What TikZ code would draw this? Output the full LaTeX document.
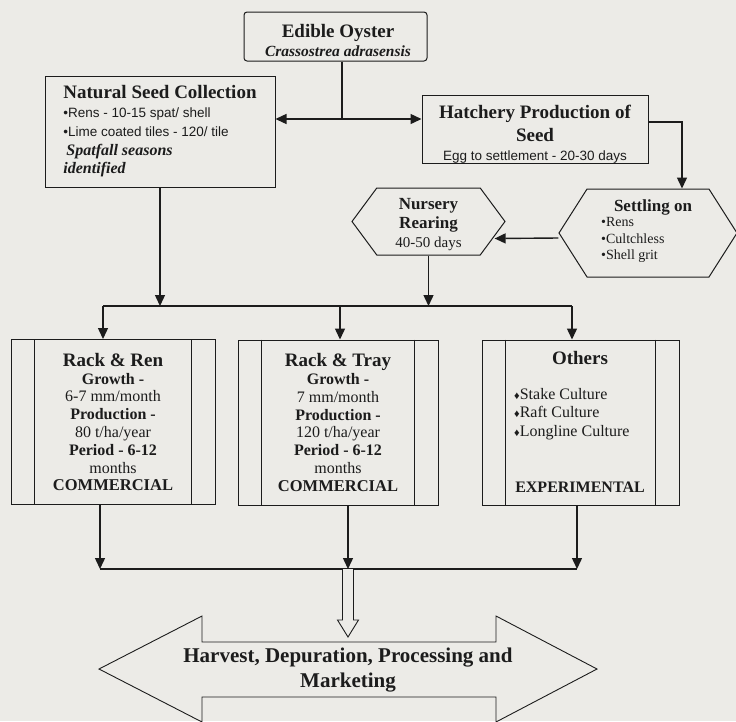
\documentclass[tikz,border=0pt]{standalone}
\usepackage{fontspec}
\setmainfont{Liberation Serif}
\newfontfamily\sansf{Liberation Sans}
\usetikzlibrary{shapes.symbols,arrows.meta,calc}
\definecolor{paper}{RGB}{236,235,231}
\definecolor{ink}{RGB}{28,28,28}

\begin{document}
\begin{tikzpicture}[x=1pt,y=-1pt,
  every node/.style={text=ink},
  box/.style={draw=ink,line width=1pt,fill=paper,inner sep=0pt},
  hexbox/.style={draw=ink,line width=1pt,fill=paper,signal,signal to=west and east,inner sep=0pt},
  link/.style={draw=ink,line width=1.4pt},
  arr/.style={link,-{Triangle[length=11pt,width=10pt]}},
  dblarr/.style={link,{Triangle[length=11pt,width=10pt]}-{Triangle[length=11pt,width=10pt]}},
  band/.style={draw=ink,line width=1pt},
  culture/.style={box,minimum height=165pt,align=center,font=\fontsize{16}{17.8}\selectfont},
  hollow/.style={draw=ink,line width=0.9pt,fill=paper},
]
% page
\fill[paper] (0,0) rectangle (736,721);
\useasboundingbox (0,0) rectangle (736,721);

% top: species box
\node[box,rounded corners=3pt,minimum width=183pt,minimum height=49pt] (oyster) at (335.5,36.5) {};
\node[align=center,font=\fontsize{19}{19}\selectfont\bfseries] (oystertext) at (338,40)
  {Edible Oyster\\ {\itshape\fontsize{15.5}{19}\selectfont Crassostrea adrasensis}};

% seed sources
\node[box,minimum width=230pt,minimum height=111pt,align=left,
      font=\fontsize{13.5}{18.7}\selectfont] (nat) at (160,131.5)
  {{\fontsize{19}{18}\selectfont\bfseries Natural Seed Collection}\\
   {\sansf •Rens - 10-15 spat/ shell}\\
   {\sansf •Lime coated tiles - 120/ tile}\\
   {\fontsize{16}{18}\selectfont\bfseries\itshape\hspace*{3pt}Spatfall seasons}\\
   {\fontsize{16}{18}\selectfont\bfseries\itshape identified}};

\node[box,minimum width=226pt,minimum height=68pt] (hatch) at (535,129) {};
\node[align=center,font=\fontsize{19}{23}\selectfont\bfseries] (hatchtext) at (535,134.5)
  {Hatchery Production of\\ Seed\\[-4pt]
   {\sansf\mdseries\fontsize{13.5}{14}\selectfont Egg to settlement - 20-30 days}};

% settling and nursery
\node[hexbox,signal pointer angle=115,minimum width=178pt,minimum height=88pt] (settle) at (648,233) {};
\node[font=\fontsize{17}{19}\selectfont\bfseries] (settlehead) at (653,207) {Settling on};
\node[anchor=west,align=left,inner sep=0pt,font=\fontsize{14}{16.5}\selectfont] (settlelist) at (601,240)
  {•Rens\\ •Cultchless\\ •Shell grit};

\node[hexbox,signal pointer angle=107,minimum width=153pt,minimum height=67pt] (nurs) at (428.5,221.5) {};
\node[align=center,font=\fontsize{17}{19}\selectfont\bfseries] (nurstext) at (428.5,225)
  {Nursery\\ Rearing\\ {\mdseries\fontsize{15}{19}\selectfont 40-50 days}};

% culture methods
\node[culture,minimum width=204pt] (rren) at (113,422)
  {{\fontsize{19}{17.8}\selectfont\bfseries Rack \& Ren}\\ \textbf{Growth -}\\ 6-7 mm/month\\
   \textbf{Production -}\\ 80 t/ha/year\\ \textbf{Period - 6-12}\\ months\\
   {\fontsize{16.5}{17.8}\selectfont\bfseries COMMERCIAL}};
\node[culture,minimum width=200pt] (tray) at (338,422.5)
  {{\fontsize{19}{17.8}\selectfont\bfseries Rack \& Tray}\\ \textbf{Growth -}\\ 7 mm/month\\
   \textbf{Production -}\\ 120 t/ha/year\\ \textbf{Period - 6-12}\\ months\\
   {\fontsize{16.5}{17.8}\selectfont\bfseries COMMERCIAL}};
\node[culture,minimum width=197pt] (oth) at (580.5,422.5) {};
\node[font=\fontsize{19}{19}\selectfont\bfseries] (othhead) at (580,358) {Others};
\node[anchor=west,align=left,inner sep=0pt,font=\fontsize{16}{18.5}\selectfont] (othlist) at (514,414)
  {{\fontsize{11}{11}\selectfont ♦}Stake Culture\\ {\fontsize{11}{11}\selectfont ♦}Raft Culture\\
   {\fontsize{11}{11}\selectfont ♦}Longline Culture};
\node[font=\fontsize{16}{18}\selectfont\bfseries] (othfoot) at (580,487) {EXPERIMENTAL};

% side bands of the culture boxes
\foreach \b in {rren,tray,oth}{
  \draw[band] ([xshift=24pt]\b.north west) -- ([xshift=24pt]\b.south west);
  \draw[band] ([xshift=-24pt]\b.north east) -- ([xshift=-24pt]\b.south east);
}

% connectors, upper part
\coordinate (junc) at (342,119);
\draw[link] (junc |- oyster.south) -- (junc);
\draw[dblarr] (nat.east |- junc) -- (hatch.west |- junc);
\draw[arr] ([yshift=7pt]hatch.east) -| ([xshift=34pt]settle.north);
\draw[arr] ([yshift=-5pt]settle.west) -- ([xshift=-11pt,yshift=-17pt]nurs.east);

\coordinate (busl) at (103,306);
\coordinate (busm) at (340,306);
\coordinate (busr) at (572,306);
\draw[link] (busl) -- (busr);
\draw[arr] (nat.south) -- (nat.south |- busl);
\draw[arr] (nurs.south) -- (nurs.south |- busl);
\draw[arr] (busl) -- (busl |- rren.north);
\draw[arr] (busm) -- (busm |- tray.north);
\draw[arr] (busr) -- (busr |- oth.north);

% connectors, lower part
\coordinate (lowl) at (100,569);
\coordinate (lowm) at (348,569);
\coordinate (lowr) at (577,569);
\draw[link] (lowl) -- (lowr);
\draw[arr] (lowl |- rren.south) -- (lowl);
\draw[arr] (lowm |- tray.south) -- (lowm);
\draw[arr] (lowr |- oth.south) -- (lowr);

% hollow arrow down to the final stage
\draw[hollow] ($(lowm)+(-5.5,0)$) -- ($(lowm)+(-5.5,51)$) -- ($(lowm)+(-10.5,51)$)
  -- ($(lowm)+(0,68)$) -- ($(lowm)+(10.5,51)$) -- ($(lowm)+(5.5,51)$) -- ($(lowm)+(5.5,0)$);

% final stage: double-headed block arrow
\draw[hollow] (99,669) -- (202,616) -- (202,642) -- (496,642) -- (496,616) -- (597,669)
  -- (496,722) -- (496,697) -- (202,697) -- (202,722) -- cycle;
\node[align=center,font=\fontsize{21}{25}\selectfont\bfseries] (harv) at (348,670.5)
  {Harvest, Depuration, Processing and\\ Marketing};
\end{tikzpicture}
\end{document}
